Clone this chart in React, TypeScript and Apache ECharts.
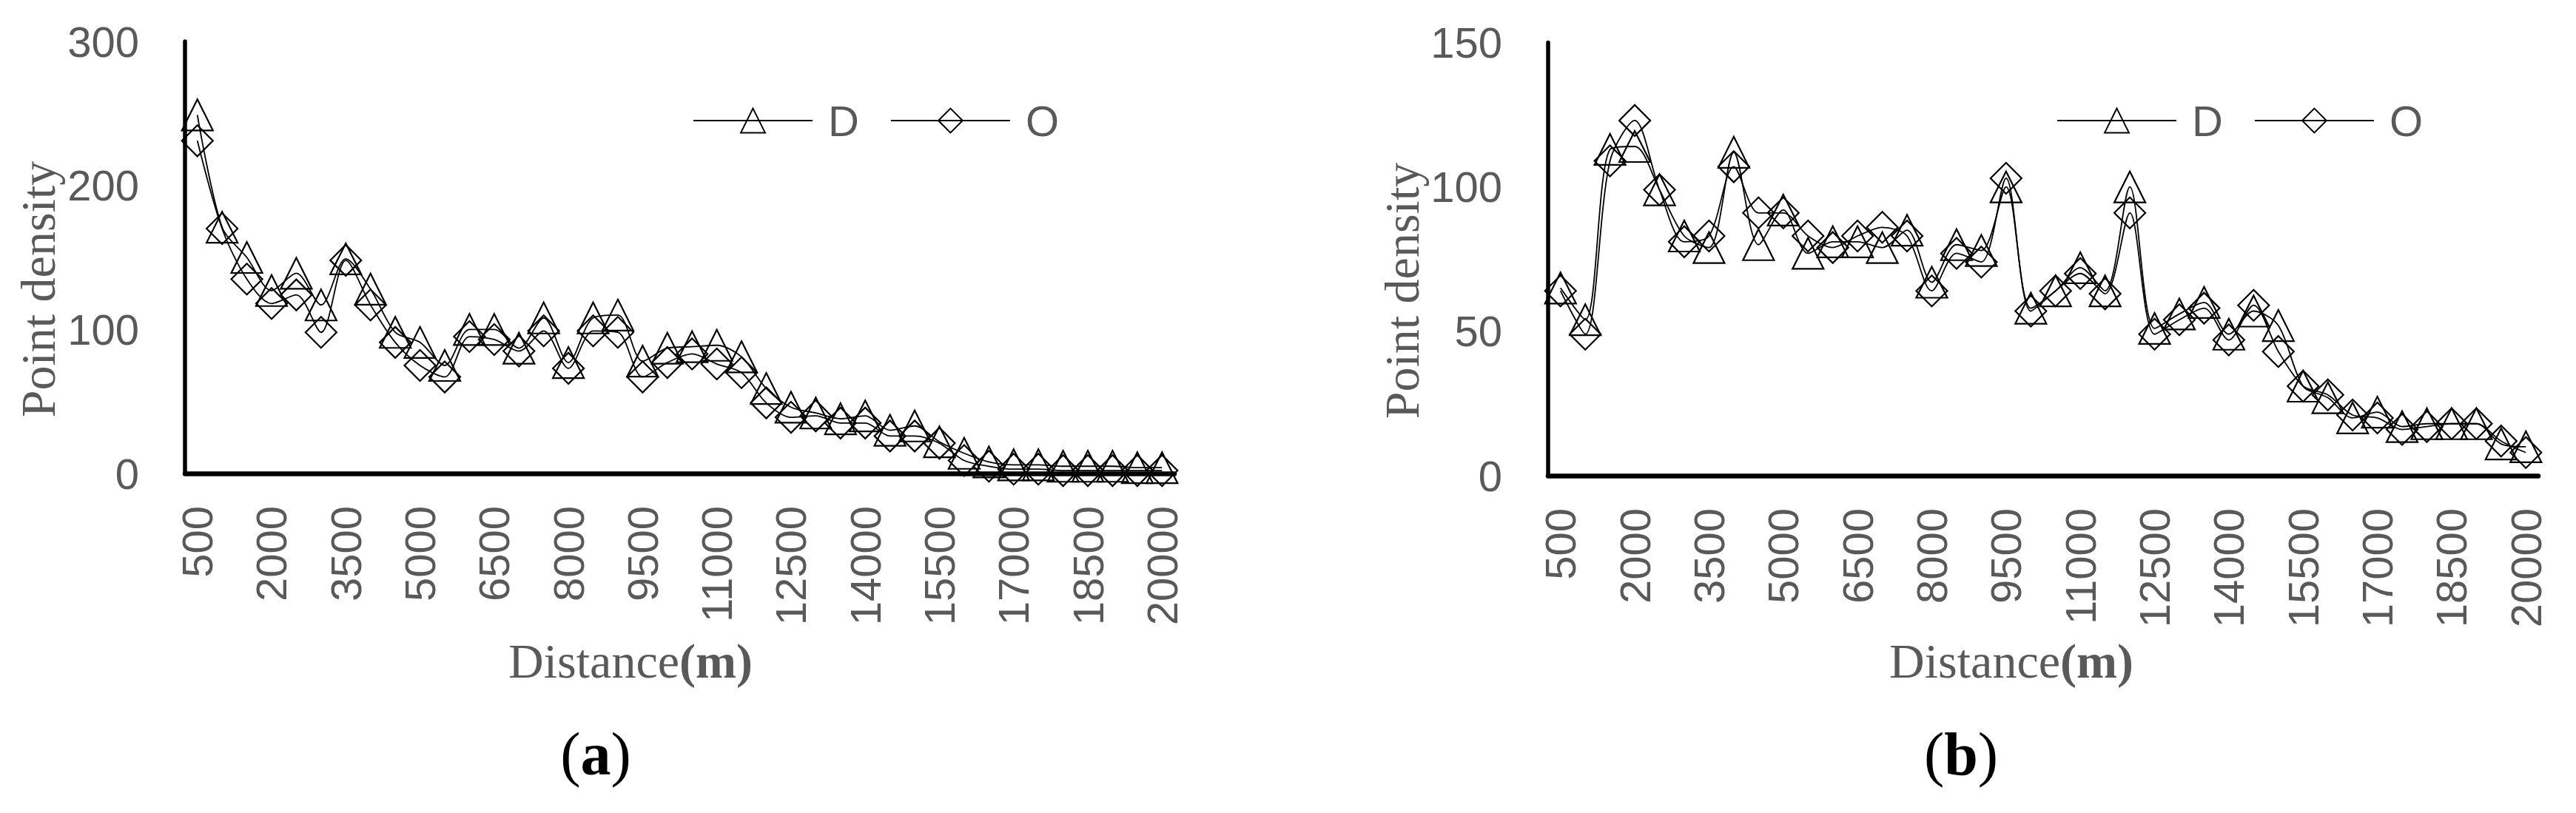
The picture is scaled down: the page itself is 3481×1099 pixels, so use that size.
import React, { useEffect, useRef } from "react";
import * as echarts from "echarts";

const categories = [
  "500", "1000", "1500", "2000", "2500", "3000", "3500", "4000", "4500", "5000",
  "5500", "6000", "6500", "7000", "7500", "8000", "8500", "9000", "9500", "10000",
  "10500", "11000", "11500", "12000", "12500", "13000", "13500", "14000", "14500", "15000",
  "15500", "16000", "16500", "17000", "17500", "18000", "18500", "19000", "19500", "20000",
];

// Panel (a)
const densityA_D = [
  249, 171, 150, 127, 139, 117, 149, 128, 98, 91,
  75, 100, 100, 87, 108, 77, 108, 110, 78, 87,
  88, 89, 81, 59, 46, 42, 38, 40, 30, 33,
  22, 14, 8, 6, 6, 5, 5, 5, 4, 4,
];
const densityA_O = [
  231, 170, 135, 118, 124, 98, 148, 117, 91, 75,
  67, 95, 93, 85, 99, 73, 99, 98, 67, 77,
  83, 76, 70, 49, 39, 40, 35, 35, 26, 26,
  21, 9, 5, 3, 3, 2, 2, 2, 2, 2,
];
// Panel (b)
const densityB_D = [
  65, 54, 113, 114, 99, 83, 79, 112, 80, 92,
  77, 81, 81, 79, 85, 67, 80, 78, 100, 58,
  64, 72, 64, 100, 51, 56, 60, 49, 57, 52,
  31, 27, 20, 22, 17, 18, 18, 18, 11, 10,
];
const densityB_O = [
  64, 49, 109, 123, 99, 81, 83, 107, 91, 91,
  83, 79, 83, 86, 83, 64, 77, 74, 103, 57,
  64, 70, 63, 91, 49, 54, 58, 47, 59, 43,
  31, 28, 21, 20, 16, 17, 18, 18, 12, 8,
];

const yTicksA = [0, 100, 200, 300];
const yTicksB = [0, 50, 100, 150];
const seriesNames = ["D", "O"];

const GRAY = "#595959";
const SANS = "Liberation Sans";
const SERIF = "Liberation Serif";

function makeX(gridIndex: number) {
  return {
    type: "category",
    gridIndex,
    data: categories,
    boundaryGap: true,
    axisLine: { show: true, onZero: false, lineStyle: { color: "#000", width: 6.5 } },
    axisTick: { show: false },
    splitLine: { show: false },
    axisLabel: {
      interval: 2,
      rotate: 90,
      margin: 44,
      color: GRAY,
      fontSize: 58,
      fontFamily: SANS,
    },
  };
}

function makeY(gridIndex: number, ticks: number[]) {
  return {
    type: "value",
    gridIndex,
    min: ticks[0],
    max: ticks[ticks.length - 1],
    interval: ticks[1] - ticks[0],
    axisLine: { show: true, lineStyle: { color: "#000", width: 5.5 } },
    axisTick: { show: false },
    splitLine: { show: false },
    axisLabel: { margin: 62, color: GRAY, fontSize: 58, fontFamily: SANS },
  };
}

function makeSeries(name: string, data: number[], symbol: string, idx: number) {
  return {
    type: "line",
    name,
    data,
    xAxisIndex: idx,
    yAxisIndex: idx,
    symbol,
    symbolSize: 42,
    showAllSymbol: true,
    smooth: 0.3,
    lineStyle: { color: "#000", width: 1.8 },
    itemStyle: { color: "rgba(0,0,0,0)", borderColor: "#000", borderWidth: 2.2 },
    emphasis: { disabled: true },
  };
}

function makeLegend(left: number) {
  return {
    left,
    top: 134,
    padding: 0,
    itemWidth: 161,
    itemHeight: 41,
    itemGap: 42,
    data: seriesNames,
    selectedMode: false,
    textStyle: {
      color: GRAY,
      fontSize: 58,
      fontFamily: SANS,
      padding: [0, 0, 0, 16],
    },
  };
}

function yTitle(x: number, y: number) {
  return {
    type: "text",
    x,
    y,
    rotation: Math.PI / 2,
    style: {
      text: "Point density",
      fontSize: 66,
      fontFamily: SERIF,
      fill: GRAY,
      align: "center",
      verticalAlign: "middle",
    },
  };
}

function xTitle(x: number, y: number) {
  return {
    type: "text",
    x,
    y,
    style: {
      text: "{n|Distance}{b|(m)}",
      align: "center",
      verticalAlign: "middle",
      rich: {
        n: { fontSize: 66, fontFamily: SERIF, fill: GRAY, color: GRAY },
        b: { fontSize: 66, fontFamily: SERIF, fontWeight: "bold", fill: GRAY, color: GRAY },
      },
    },
  };
}

function panelLabel(x: number, y: number, letter: string) {
  return {
    type: "text",
    x,
    y,
    style: {
      text: "{n|(}{b|" + letter + "}{n|)}",
      align: "center",
      verticalAlign: "middle",
      rich: {
        n: { fontSize: 82, fontFamily: SERIF, fill: "#000", color: "#000" },
        b: { fontSize: 82, fontFamily: SERIF, fontWeight: "bold", fill: "#000", color: "#000" },
      },
    },
  };
}

export default function App() {
  const ref = useRef<HTMLDivElement>(null);

  useEffect(() => {
    if (!ref.current) return;
    const chart = echarts.init(ref.current, null, { renderer: "svg" });
    const option = {
      animation: false,
      backgroundColor: "#fff",
      grid: [
        { left: 250, top: 56, width: 1337, height: 584, containLabel: false },
        { left: 2092, top: 57.5, width: 1338, height: 585.5, containLabel: false },
      ],
      xAxis: [makeX(0), makeX(1)],
      yAxis: [makeY(0, yTicksA), makeY(1, yTicksB)],
      legend: [makeLegend(936), makeLegend(2779)],
      series: [
        makeSeries(seriesNames[0], densityA_D, "triangle", 0),
        makeSeries(seriesNames[1], densityA_O, "diamond", 0),
        makeSeries(seriesNames[0], densityB_D, "triangle", 1),
        makeSeries(seriesNames[1], densityB_O, "diamond", 1),
      ],
      graphic: [
        yTitle(51, 391),
        yTitle(1894, 393),
        xTitle(852, 893),
        xTitle(2718, 893),
        panelLabel(805, 1019, "a"),
        panelLabel(2650, 1019, "b"),
      ],
    };
    chart.setOption(option as any);
    return () => {
      chart.dispose();
    };
  }, []);

  return (
    <div
      ref={ref}
      style={{ position: "absolute", left: 0, top: 0, width: 3481, height: 1099, background: "#fff" }}
    />
  );
}
